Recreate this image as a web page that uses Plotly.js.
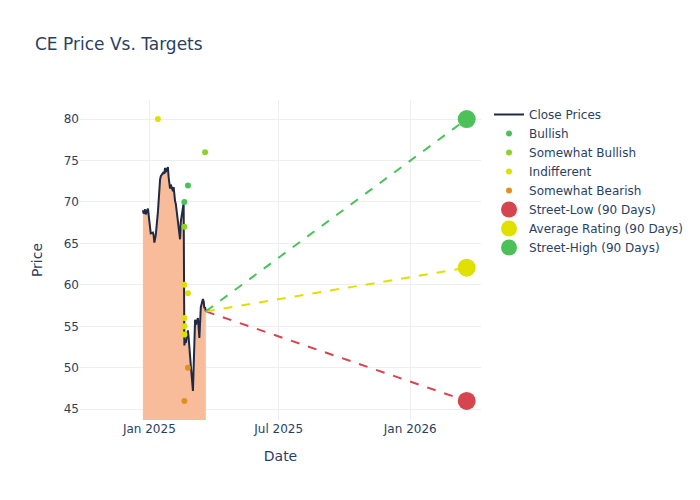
<!DOCTYPE html>
<html>
<head>
<meta charset="utf-8">
<script src="https://cdn.plot.ly/plotly-3.0.1.min.js"></script>
<style>html,body{margin:0;padding:0;background:#fff;}#chart{width:700px;height:500px;}</style>
</head>
<body>
<div id="chart"></div>
<script>
// Close prices
const priceDates = [
  '2024-12-23','2024-12-24','2024-12-26','2024-12-27','2024-12-30','2024-12-31',
  '2025-01-02','2025-01-03','2025-01-06','2025-01-07','2025-01-08','2025-01-10',
  '2025-01-13','2025-01-14','2025-01-15','2025-01-16','2025-01-17','2025-01-21',
  '2025-01-22','2025-01-23','2025-01-24','2025-01-27','2025-01-28','2025-01-29',
  '2025-01-30','2025-01-31','2025-02-03','2025-02-04','2025-02-05','2025-02-06',
  '2025-02-07','2025-02-10','2025-02-11','2025-02-12','2025-02-13','2025-02-14',
  '2025-02-18','2025-02-19','2025-02-20','2025-02-21','2025-02-24','2025-02-25',
  '2025-02-26','2025-02-27','2025-02-28','2025-03-03','2025-03-04','2025-03-05',
  '2025-03-06','2025-03-07','2025-03-10','2025-03-11','2025-03-12','2025-03-13',
  '2025-03-14','2025-03-17','2025-03-18','2025-03-19','2025-03-20','2025-03-21'
];
const closePrices = [
  69.0, 68.6, 69.1, 68.5, 69.2, 68.5,
  67.0, 66.2, 66.3, 66.0, 65.1, 66.0,
  68.8, 70.8, 71.9, 72.7, 73.1, 73.6,
  73.4, 74.1, 73.6, 74.2, 73.0, 72.0,
  71.6, 72.1, 71.3, 71.8, 70.4, 70.1,
  69.8, 67.6, 67.0, 66.4, 65.5, 67.6,
  69.9, 52.7, 53.2, 53.0, 54.5, 53.6,
  52.0, 51.2, 50.3, 47.2, 50.8, 54.0,
  55.8, 55.2, 56.0, 54.8, 53.6, 55.4,
  57.3, 58.3, 58.0, 57.2, 57.3, 56.8
];

// Analyst ratings
const bullishDates = ['2025-02-19', '2025-02-24'];
const bullishPrices = [70, 72];
const someBullDates = ['2025-02-19', '2025-03-20'];
const someBullPrices = [67, 76];
const indiffDates = ['2025-01-13', '2025-02-19', '2025-02-24', '2025-02-19', '2025-02-19', '2025-02-19'];
const indiffPrices = [80, 60, 59, 56, 55, 54];
const someBearDates = ['2025-02-24', '2025-02-19'];
const someBearPrices = [50, 46];

// 90-day street targets
const targetDate = '2026-03-21';
const streetLow = 46;
const averageRating = 62.07;
const streetHigh = 80;

const lastDate = priceDates[priceDates.length - 1];
const lastClose = closePrices[closePrices.length - 1];

const cGreen = '#4cc15a', cYG = '#8fd12a', cYellow = '#e0e000', cOrange = '#e0901f', cRed = '#d6454f';

const traces = [
  {x: priceDates, y: closePrices, type: 'scatter', mode: 'lines', fill: 'tozeroy',
   fillcolor: '#f8bc9a', line: {width: 0, color: '#f8bc9a'}, showlegend: false, hoverinfo: 'skip'},
  {x: priceDates, y: closePrices, type: 'scatter', mode: 'lines', name: 'Close Prices',
   line: {color: '#1f2a44', width: 2}},
  {x: bullishDates, y: bullishPrices, type: 'scatter', mode: 'markers', name: 'Bullish',
   marker: {color: cGreen, size: 6}},
  {x: someBullDates, y: someBullPrices, type: 'scatter', mode: 'markers', name: 'Somewhat Bullish',
   marker: {color: cYG, size: 6}},
  {x: indiffDates, y: indiffPrices, type: 'scatter', mode: 'markers', name: 'Indifferent',
   marker: {color: cYellow, size: 6}},
  {x: someBearDates, y: someBearPrices, type: 'scatter', mode: 'markers', name: 'Somewhat Bearish',
   marker: {color: cOrange, size: 6}},
  {x: [lastDate, targetDate], y: [lastClose, streetLow], type: 'scatter', mode: 'lines',
   line: {color: cRed, dash: 'dash', width: 2}, showlegend: false},
  {x: [lastDate, targetDate], y: [lastClose, averageRating], type: 'scatter', mode: 'lines',
   line: {color: cYellow, dash: 'dash', width: 2}, showlegend: false},
  {x: [lastDate, targetDate], y: [lastClose, streetHigh], type: 'scatter', mode: 'lines',
   line: {color: cGreen, dash: 'dash', width: 2}, showlegend: false},
  {x: [targetDate], y: [streetLow], type: 'scatter', mode: 'markers', name: 'Street-Low (90 Days)',
   marker: {color: cRed, size: 18}},
  {x: [targetDate], y: [averageRating], type: 'scatter', mode: 'markers', name: 'Average Rating (90 Days)',
   marker: {color: cYellow, size: 18}},
  {x: [targetDate], y: [streetHigh], type: 'scatter', mode: 'markers', name: 'Street-High (90 Days)',
   marker: {color: cGreen, size: 18}}
];

const layout = {
  template: 'plotly_white',
  width: 700, height: 500,
  font: {family: '"DejaVu Sans", Verdana, sans-serif', color: '#2a3f5f'},
  title: {text: 'CE Price Vs. Targets', x: 0.05, xanchor: 'left'},
  xaxis: {title: {text: 'Date', standoff: 16}, range: ['2024-09-26', '2026-04-10'], type: 'date',
          dtick: 'M6', tick0: '2025-01-01', tickformat: '%b %Y'},
  yaxis: {title: {text: 'Price'}, range: [43.7, 82.3], dtick: 5},
  showlegend: true
};

Plotly.newPlot('chart', traces, layout, {displayModeBar: false});
</script>
</body>
</html>
